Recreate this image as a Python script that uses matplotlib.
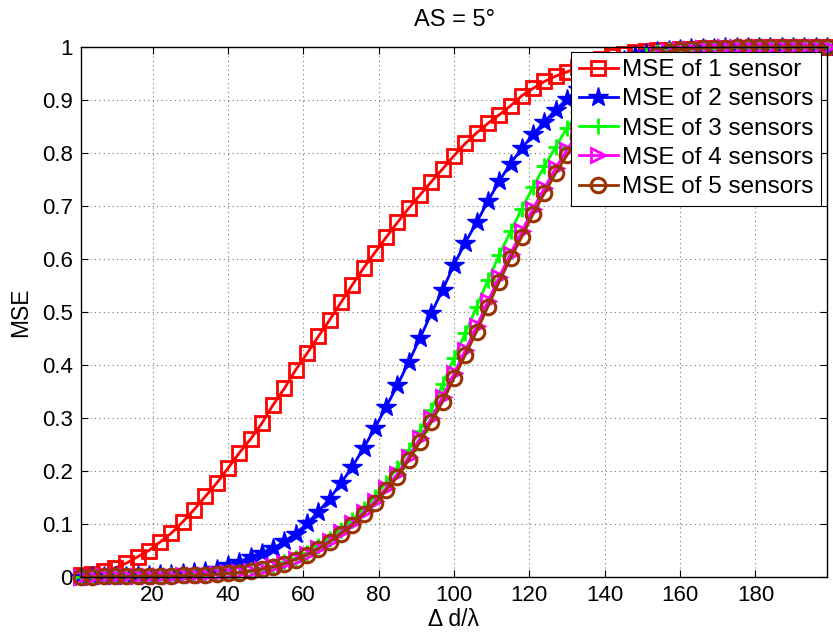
import numpy as np
import matplotlib
matplotlib.use("Agg")
from matplotlib import pyplot as plt

plt.rcParams['font.family'] = ['Liberation Sans', 'DejaVu Sans']

# sample positions, delta d / lambda
d_lambda = [1, 4, 7, 10, 13, 16, 19, 22, 25, 28,
            31, 34, 37, 40, 43, 46, 49, 52, 55, 58,
            61, 64, 67, 70, 73, 76, 79, 82, 85, 88,
            91, 94, 97, 100, 103, 106, 109, 112, 115, 118,
            121, 124, 127, 130, 133, 136, 139, 142, 145, 148,
            151, 154, 157, 160, 163, 166, 169, 172, 175, 178,
            181, 184, 187, 190, 193, 196, 199]

mse_1 = [.003, .006, .011, .017, .026, .038, .050, .066, .083, .104,
         .127, .152, .177, .205, .234, .260, .290, .325, .356, .391,
         .422, .454, .485, .518, .551, .583, .612, .641, .669, .696,
         .721, .746, .770, .795, .818, .838, .856, .872, .889, .908,
         .922, .935, .945, .953, .962, .970, .977, .983, .987, .990,
         .992, .994, .995, .996, .997, .998, .998, .999, .999, .999,
         1.0, 1.0, 1.0, 1.0, 1.0, 1.0, 1.0]

mse_2 = [.000, .001, .001, .002, .002, .003, .004, .005, .006, .007,
         .009, .011, .016, .023, .029, .037, .046, .054, .067, .082,
         .101, .123, .148, .177, .208, .243, .281, .321, .362, .406,
         .451, .498, .542, .589, .631, .669, .709, .747, .780, .809,
         .835, .859, .881, .902, .921, .938, .953, .966, .976, .984,
         .989, .993, .995, .997, .998, .999, .999, 1.0, 1.0, 1.0,
         1.0, 1.0, 1.0, 1.0, 1.0, 1.0, 1.0]

mse_3 = [.000, .000, .001, .001, .001, .002, .002, .002, .003, .003,
         .004, .004, .005, .007, .009, .013, .016, .021, .028, .036,
         .046, .058, .072, .089, .107, .129, .151, .178, .206, .240,
         .276, .316, .364, .413, .460, .510, .560, .607, .652, .695,
         .736, .775, .812, .847, .877, .903, .926, .946, .962, .975,
         .984, .990, .994, .996, .997, .998, .999, 1.0, 1.0, 1.0,
         1.0, 1.0, 1.0, 1.0, 1.0, 1.0, 1.0]

mse_4 = [.000, .000, .001, .001, .001, .001, .002, .002, .002, .003,
         .003, .004, .005, .007, .009, .012, .016, .020, .026, .034,
         .044, .055, .068, .084, .101, .122, .143, .168, .195, .227,
         .262, .300, .340, .384, .428, .473, .520, .566, .610, .652,
         .695, .734, .772, .806, .840, .870, .898, .925, .948, .965,
         .978, .987, .992, .995, .997, .998, .999, 1.0, 1.0, 1.0,
         1.0, 1.0, 1.0, 1.0, 1.0, 1.0, 1.0]

mse_5 = [.000, .000, .001, .001, .001, .001, .002, .002, .002, .003,
         .003, .004, .005, .007, .008, .011, .015, .019, .025, .033,
         .042, .053, .066, .082, .098, .119, .139, .164, .189, .221,
         .255, .293, .331, .375, .419, .463, .510, .557, .601, .642,
         .685, .724, .762, .796, .830, .860, .890, .918, .942, .961,
         .975, .985, .991, .995, .997, .998, .999, .999, 1.0, 1.0,
         1.0, 1.0, 1.0, 1.0, 1.0, 1.0, 1.0]

labels = ['MSE of 1 sensor', 'MSE of 2 sensors', 'MSE of 3 sensors',
          'MSE of 4 sensors', 'MSE of 5 sensors']
xticks = [20, 40, 60, 80, 100, 120, 140, 160, 180]
yticks = [0, 0.1, 0.2, 0.3, 0.4, 0.5, 0.6, 0.7, 0.8, 0.9, 1]
ytick_labels = ['0', '0.1', '0.2', '0.3', '0.4', '0.5', '0.6', '0.7', '0.8', '0.9', '1']

fig = plt.figure(figsize=(8.33, 6.38), dpi=100)
ax = fig.add_axes([81/833, 61/638, 746/833, 530/638])

series = [mse_1, mse_2, mse_3, mse_4, mse_5]
styles = [
    dict(color='#ff0000', marker='s', ms=10, mfc='none', mew=2.0),
    dict(color='#0000ff', marker='*', ms=15, mfc='#0000ff', mew=1.0),
    dict(color='#00ff00', marker='+', ms=11, mew=2.0),
    dict(color='#ff00ff', marker='>', ms=10, mfc='none', mew=2.0),
    dict(color='#993300', marker='o', ms=10.5, mfc='none', mew=2.2),
]
for vals, lab, st in zip(series, labels, styles):
    ax.plot(d_lambda, vals, lw=2.0, label=lab, clip_on=False, **st)

ax.set_xlim(1, 199)
ax.set_ylim(0, 1)
ax.set_xticks(xticks)
ax.set_yticks(yticks)
ax.set_yticklabels(ytick_labels)
ax.grid(True, linestyle=(0, (1, 3)), color='0.45', linewidth=0.8)
ax.set_axisbelow(True)
ax.tick_params(direction='in', top=True, right=True, length=5, width=0.8,
               labelsize=16, pad=6)
for sp in ax.spines.values():
    sp.set_linewidth(1.0)

ax.set_title('AS = 5°', fontsize=17, pad=15)
ax.set_xlabel('Δ d/λ', fontsize=16.5, labelpad=1)
ax.set_ylabel('MSE', fontsize=16.5, labelpad=7)

leg = ax.legend(loc='upper right', bbox_to_anchor=(0.992, 0.991),
                borderaxespad=0, fontsize=17.5, fancybox=False,
                edgecolor='black', framealpha=1, handlelength=1.6,
                handletextpad=0.2, borderpad=0.3, labelspacing=0.3)
leg.get_frame().set_linewidth(0.8)
leg.set_zorder(5)

fig.savefig('out.png', dpi=100)
